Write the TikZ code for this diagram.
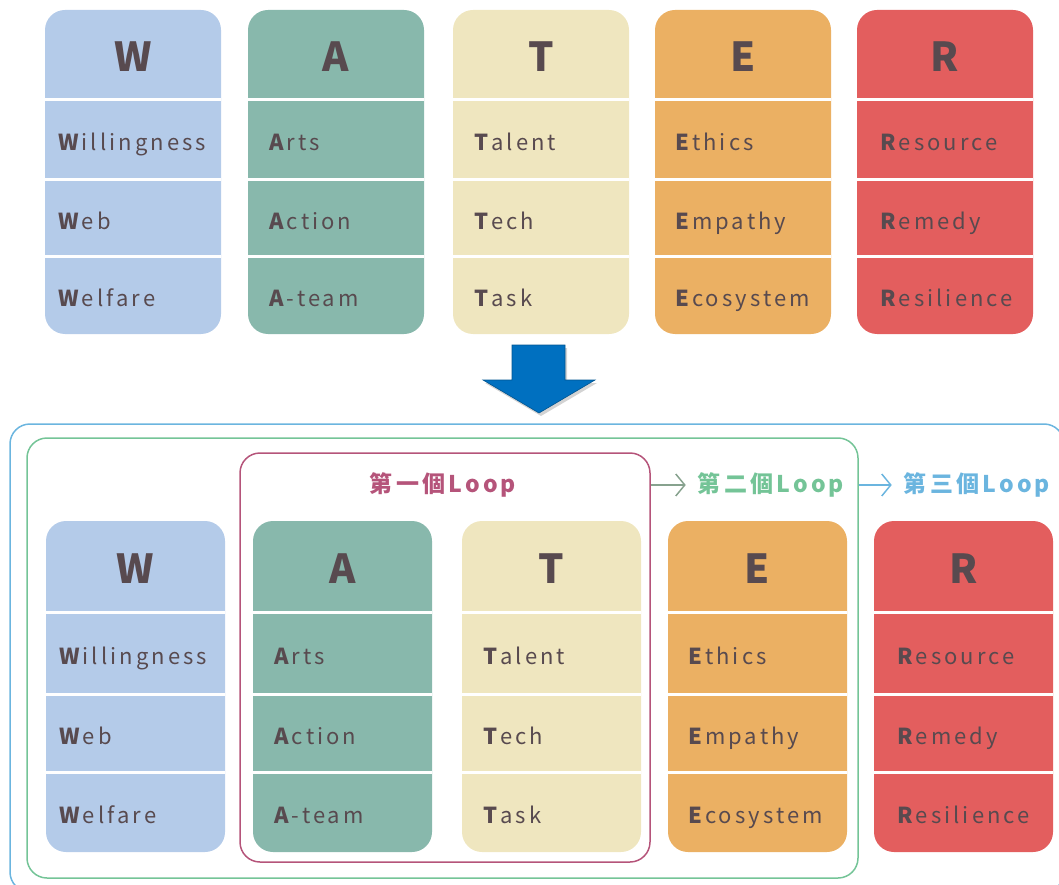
\documentclass[tikz,border=0pt]{standalone}
\usepackage{fontspec}
\setmainfont{Noto Sans CJK TC}[LetterSpace=14]
\usetikzlibrary{positioning,arrows.meta,shadows}

\definecolor{wblue}{HTML}{B4CBE9}
\definecolor{ateal}{HTML}{88B8AC}
\definecolor{tcream}{HTML}{EFE6BF}
\definecolor{eorange}{HTML}{EBB063}
\definecolor{rred}{HTML}{E35E5E}
\definecolor{ink}{HTML}{584A4F}
\definecolor{arrowblue}{HTML}{0070C0}
\definecolor{loopone}{HTML}{B5547A}
\definecolor{looptwo}{HTML}{74C497}
\definecolor{loopthree}{HTML}{6BB5DF}

\tikzset{
  head/.style={text=ink, font=\fontsize{40}{40}\selectfont\bfseries, inner sep=0pt},
  item/.style={text=ink, font=\fontsize{22}{22}\selectfont, inner sep=0pt,
    text height=0.72em, text depth=0pt, anchor=west},
  frame/.style={draw=#1, line width=1.5pt, rounded corners=20pt, inner sep=0pt},
  looplbl/.style={text=#1, font=\fontsize{23}{23}\selectfont\bfseries, inner sep=0pt},
  looparrow/.style={line width=1.5pt, shorten >=12pt,
    -{Straight Barb[length=9pt,width=22pt,line width=1.5pt]}}
}

\begin{document}
\begin{tikzpicture}[x=1pt,y=-1pt]
\useasboundingbox (0,0) rectangle (1059,885);

% the WATER columns, upper row and lower row
\foreach \xt/\xb/\col/\ltr/\ins/\a/\b/\c in {
    45/46/wblue/W/13/illingness/eb/elfare,
    248/253/ateal/A/21/rts/ction/-team,
    453/462/tcream/T/21/alent/ech/ask,
    655/668/eorange/E/20/thics/mpathy/cosystem,
    857/874/rred/R/23/esource/emedy/esilience}{
  \foreach \y/\h/\x/\w/\pos in {10/324/\xt/176/top, 521/331/\xb/179/bot}{
    \fill[\col, rounded corners=20pt] (\x,\y) rectangle ++(\w,\h);
    \foreach \f in {0.275,0.524,0.76}
      \draw[white, line width=3pt] (\x,\y+\f*\h) -- ++(\w,0);
    \node[head] (\pos-\ltr) at (\x+\w/2,\y+0.145*\h) {\ltr};
    \node[item] (\pos-\ltr-1) at (\x+\ins,\y+0.402*\h+7) {\textbf{\ltr}\a};
    \node[item] (\pos-\ltr-2) at (\x+\ins,\y+0.644*\h+7) {\textbf{\ltr}\b};
    \node[item] (\pos-\ltr-3) at (\x+\ins,\y+0.882*\h+7) {\textbf{\ltr}\c};
  }
}

% big arrow down
\filldraw[fill=arrowblue, draw=arrowblue!75!black, line width=0.6pt,
  drop shadow={opacity=0.35, shadow xshift=2pt, shadow yshift=-3pt}]
  (512,345) -- (565,345) -- (565,380) -- (595,380) -- (539,413)
  -- (483,380) -- (512,380) -- cycle;

% loops
\node[frame=loopthree, minimum width=1054pt, minimum height=468pt] (loop3) at (537,658) {};
\node[frame=looptwo, minimum width=831pt, minimum height=440pt] (loop2) at (442.5,658) {};
\node[frame=loopone, minimum width=410pt, minimum height=409pt] (loop1) at (445,657.5) {};

\node[looplbl=loopone] (lbl1) at (443,485) {第一個Loop};
\node[looplbl=looptwo] (lbl2) at (771,485) {第二個Loop};
\node[looplbl=loopthree] (lbl3) at (977,485) {第三個Loop};

\draw[looparrow, looptwo!70!loopone] (loop1.east |- lbl2) -- (lbl2.west);
\draw[looparrow, loopthree] (loop2.east |- lbl3) -- (lbl3.west);
\end{tikzpicture}
\end{document}
